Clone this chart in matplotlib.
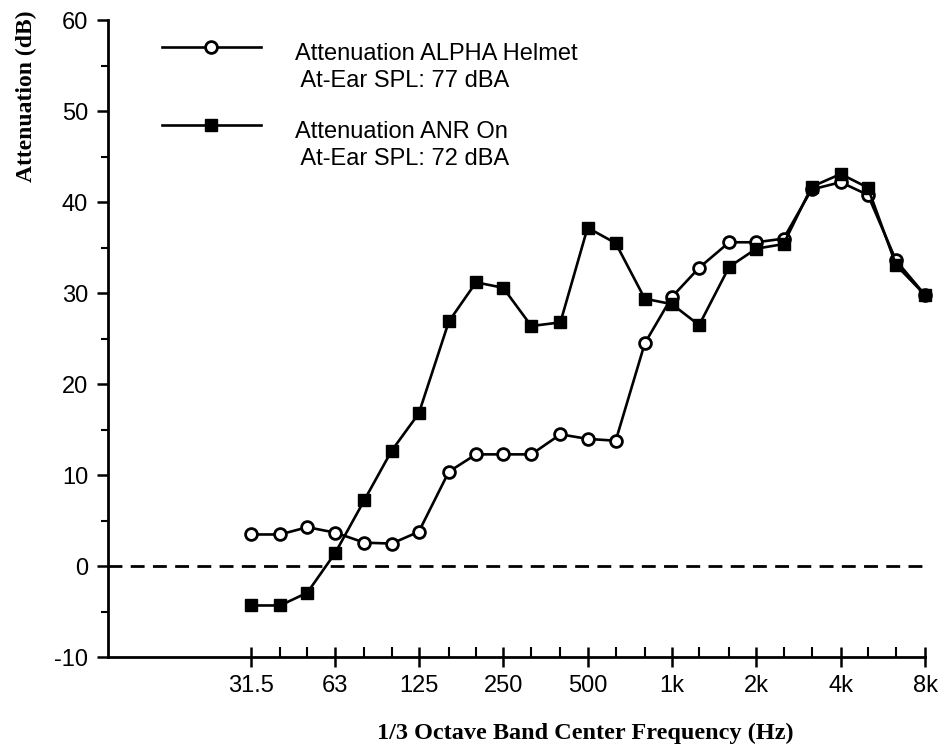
import matplotlib
matplotlib.use("Agg")
import matplotlib.pyplot as plt
from matplotlib.ticker import FixedLocator, NullFormatter, MultipleLocator
from matplotlib.legend_handler import HandlerLine2D

plt.rcParams["axes.unicode_minus"] = False

# 1/3 octave band centre frequencies (Hz)
freqs = [31.5, 40, 50, 63, 80, 100, 125, 160, 200, 250, 315, 400, 500, 630,
         800, 1000, 1250, 1600, 2000, 2500, 3150, 4000, 5000, 6300, 8000]

# Attenuation values (dB)
alpha_helmet = [3.5, 3.5, 4.3, 3.7, 2.6, 2.5, 3.8, 10.4, 12.3, 12.3, 12.3, 14.5, 14.0,
                13.8, 24.5, 29.6, 32.8, 35.6, 35.6, 36.0, 41.4, 42.2, 40.8, 33.6, 29.8]
anr_on = [-4.3, -4.3, -2.9, 1.5, 7.3, 12.7, 16.8, 26.9, 31.2, 30.6, 26.4, 26.8, 37.2,
          35.5, 29.4, 28.8, 26.5, 32.9, 34.9, 35.4, 41.7, 43.1, 41.6, 33.1, 29.8]

# Labelled ticks on the x axis
major_freqs = [31.5, 63, 125, 250, 500, 1000, 2000, 4000, 8000]
major_labels = ["31.5", "63", "125", "250", "500", "1k", "2k", "4k", "8k"]

label_alpha = "Attenuation ALPHA Helmet\n At-Ear SPL: 77 dBA"
label_anr = "Attenuation ANR On\n At-Ear SPL: 72 dBA"

sans = ["Liberation Sans", "DejaVu Sans"]
narrow = ["Liberation Sans Narrow", "Liberation Sans", "DejaVu Sans"]
serif = ["Liberation Serif", "DejaVu Serif"]


# legend handler that lifts the sample line up to the first text line
class RaisedLine(HandlerLine2D):
    def __init__(self, lift, **kw):
        super().__init__(**kw)
        self.lift = lift

    def create_artists(self, legend, orig_handle, xdescent, ydescent, width, height,
                       fontsize, trans):
        arts = super().create_artists(legend, orig_handle, xdescent, ydescent,
                                      width, height, fontsize, trans)
        for a in arts:
            a.set_ydata([y + self.lift for y in a.get_ydata()])
        return arts


fig = plt.figure(figsize=(9.44, 7.47), dpi=100)
ax = fig.add_axes([0.114, 0.120, 0.866, 0.853])

# Data lines
l1, = ax.plot(freqs, alpha_helmet, color="black", lw=1.9, marker="o", markersize=8.5,
              markerfacecolor="white", markeredgecolor="black", markeredgewidth=2,
              label=label_alpha, clip_on=False, zorder=3)
l2, = ax.plot(freqs, anr_on, color="black", lw=1.9, marker="s", markersize=9,
              markerfacecolor="black", markeredgecolor="black",
              label=label_anr, clip_on=False, zorder=4)

# Zero reference line
ax.axhline(0, color="black", lw=2, dashes=(5, 3), zorder=2)

ax.set_xscale("log")
ax.set_xlim(9.7, 8000)
ax.set_ylim(-10, 60)

ax.xaxis.set_major_locator(FixedLocator(major_freqs))
ax.set_xticklabels(major_labels, fontfamily=narrow, fontsize=17)
ax.xaxis.set_minor_locator(FixedLocator(freqs))
ax.xaxis.set_minor_formatter(NullFormatter())
ax.tick_params(axis="x", which="major", direction="inout", length=14, width=1.8, pad=6)
ax.tick_params(axis="x", which="minor", direction="in", length=7, width=1.5)

ax.yaxis.set_major_locator(MultipleLocator(10))
ax.yaxis.set_minor_locator(MultipleLocator(5))
ax.tick_params(axis="y", which="major", direction="out", length=8, width=1.8, labelsize=17, pad=6)
ax.tick_params(axis="y", which="minor", direction="out", length=5, width=1.5)
for lbl in ax.get_yticklabels():
    lbl.set_fontfamily(sans)

for side in ["top", "right"]:
    ax.spines[side].set_visible(False)
for side in ["left", "bottom"]:
    ax.spines[side].set_linewidth(2)

ax.set_xlabel("1/3 Octave Band Center Frequency (Hz)", fontfamily=serif,
              fontweight="bold", fontsize=17.5)
ax.xaxis.set_label_coords(0.584, -0.102)
ax.set_ylabel("Attenuation (dB)", fontfamily=serif, fontweight="bold", fontsize=17)
ax.yaxis.set_label_coords(-0.086, 0.88)

leg = ax.legend(handles=[l1, l2], loc="upper left", bbox_to_anchor=(0.04, 0.997),
                frameon=False, handlelength=4.2, handletextpad=1.45, labelspacing=1.2,
                prop={"family": sans, "size": 17},
                handler_map={l1: RaisedLine(15), l2: RaisedLine(15)})
for t in leg.get_texts():
    t.set_linespacing(1.3)

fig.savefig("out.png", dpi=100)
